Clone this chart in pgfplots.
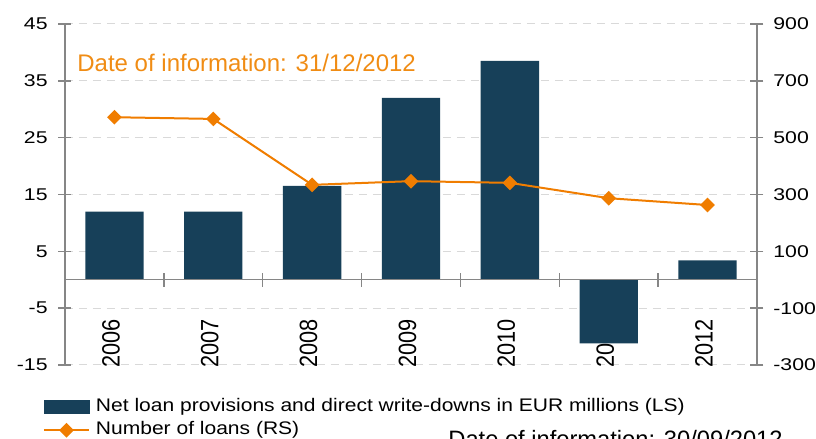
\documentclass[border=0pt]{standalone}
\usepackage{pgfplots}
\pgfplotsset{compat=1.18}
\usepackage{fontspec}
\setmainfont{Liberation Sans}
\newfontfamily\tickfamily{Liberation Sans}[FakeStretch=1.25]
\newfontfamily\legfamily{Liberation Sans}[FakeStretch=1.155]
\newfontfamily\yearfamily{Liberation Sans}[FakeStretch=0.87]
\definecolor{barblue}{RGB}{23,64,89}
\definecolor{lineorange}{RGB}{240,125,0}
\definecolor{textorange}{RGB}{240,140,20}
\definecolor{axgray}{RGB}{134,134,134}
\definecolor{gridgray}{RGB}{217,217,217}
\pgfplotsset{
  linelegend/.style={legend image code/.code={\draw[mark repeat=2,mark phase=2,##1] plot coordinates {(0pt,0pt) (11.25pt,0pt) (22.5pt,0pt)};}},
  barlegend/.style={legend image code/.code={\fill[barblue] (0pt,-3.25pt) rectangle (22.5pt,3.25pt);}},
}
\begin{document}
\begin{tikzpicture}
\begin{axis}[
  at={(0,0)}, anchor=south west,
  width=346pt, height=170.5pt, scale only axis,
  xmin=-0.5, xmax=6.5, ymin=-15, ymax=45,
  axis y line*=left, axis x line*=bottom,
  x axis line style={draw=none},
  y axis line style={draw=axgray, line width=0.75pt, -},
  ytick={-15,-5,5,15,25,35,45},
  yticklabels={-15,-5,5,15,25,35,45},
  yticklabel style={font=\tickfamily\fontsize{8.5}{10}\selectfont, inner xsep=0pt, xshift=-5.25pt},
  xtick={0,...,6},
  xticklabels={2006,2007,2008,2009,2010,2011,2012},
  xticklabel style={font=\yearfamily\fontsize{12.5}{14}\selectfont, xshift=-1.75pt, yshift=5pt, rotate=90, anchor=west, inner sep=0pt},
  xtick style={draw=none},
  ytick style={draw=axgray, line width=0.75pt},
  tick align=center, major tick length=6.5pt,
  ymajorgrids, grid style={draw=gridgray, dash pattern=on 4pt off 3pt, line width=0.5pt},
  ybar, bar width=0.59,
]
\addplot[fill=barblue, draw=none] coordinates {(0,12) (1,12) (2,16.5) (3,32) (4,38.5) (5,-11.2) (6,3.4)};
\draw[axgray, line width=0.75pt] (axis cs:-0.5,0) -- (axis cs:6.5,0);
\pgfplotsinvokeforeach{0.5,1.5,2.5,3.5,4.5,5.5}{\draw[axgray, line width=0.75pt] ([yshift=-3.5pt]axis cs:#1,0) -- ([yshift=3.5pt]axis cs:#1,0);}
\end{axis}
\begin{axis}[
  at={(0,0)}, anchor=south west,
  width=346pt, height=170.5pt, scale only axis,
  xmin=-0.5, xmax=6.5, ymin=-300, ymax=900,
  axis y line*=right, axis x line=none,
  y axis line style={draw=axgray, line width=0.75pt, -},
  ytick={-300,-100,100,300,500,700,900},
  yticklabels={-300,-100,100,300,500,700,900},
  yticklabel style={font=\tickfamily\fontsize{8.5}{10}\selectfont, inner xsep=0pt, xshift=4.75pt},
  ytick style={draw=axgray, line width=0.75pt},
  tick align=center, major tick length=6.5pt,
  legend cell align=left,
  legend style={at={(0,0)}, anchor=north west, xshift=-11pt, yshift=-15.4pt,
    draw=none, fill=none, inner sep=0pt, outer sep=0pt, row sep=0pt, column sep=3pt,
    nodes={inner sep=0pt, text height=8pt, text depth=3.5pt, font=\legfamily\fontsize{9.1}{11}\selectfont}},
]
\addlegendimage{barlegend}
\addlegendentry{Net loan provisions and direct write-downs in EUR millions (LS)}
\addplot[lineorange, line width=1pt, mark=square*, mark size=2.1pt,
  mark options={rotate=45, fill=lineorange, draw=lineorange}, linelegend]
  coordinates {(0,572) (1,566) (2,334) (3,347) (4,341) (5,287) (6,263)};
\addlegendentry{Number of loans (RS)}
\end{axis}
\node[anchor=base west, inner sep=0pt, text=textorange, font=\fontsize{12}{14}\selectfont] at (6pt,146.5pt) {Date of information: 31/12/2012};
\node[anchor=base west, inner sep=0pt, font=\fontsize{11.85}{14}\selectfont] at (191.5pt,-41.5pt) {Date of information: 30/09/2012};
\pgfresetboundingbox
\useasboundingbox (-32.5pt,-37pt) rectangle (375.5pt,182.5pt);
\end{tikzpicture}
\end{document}
